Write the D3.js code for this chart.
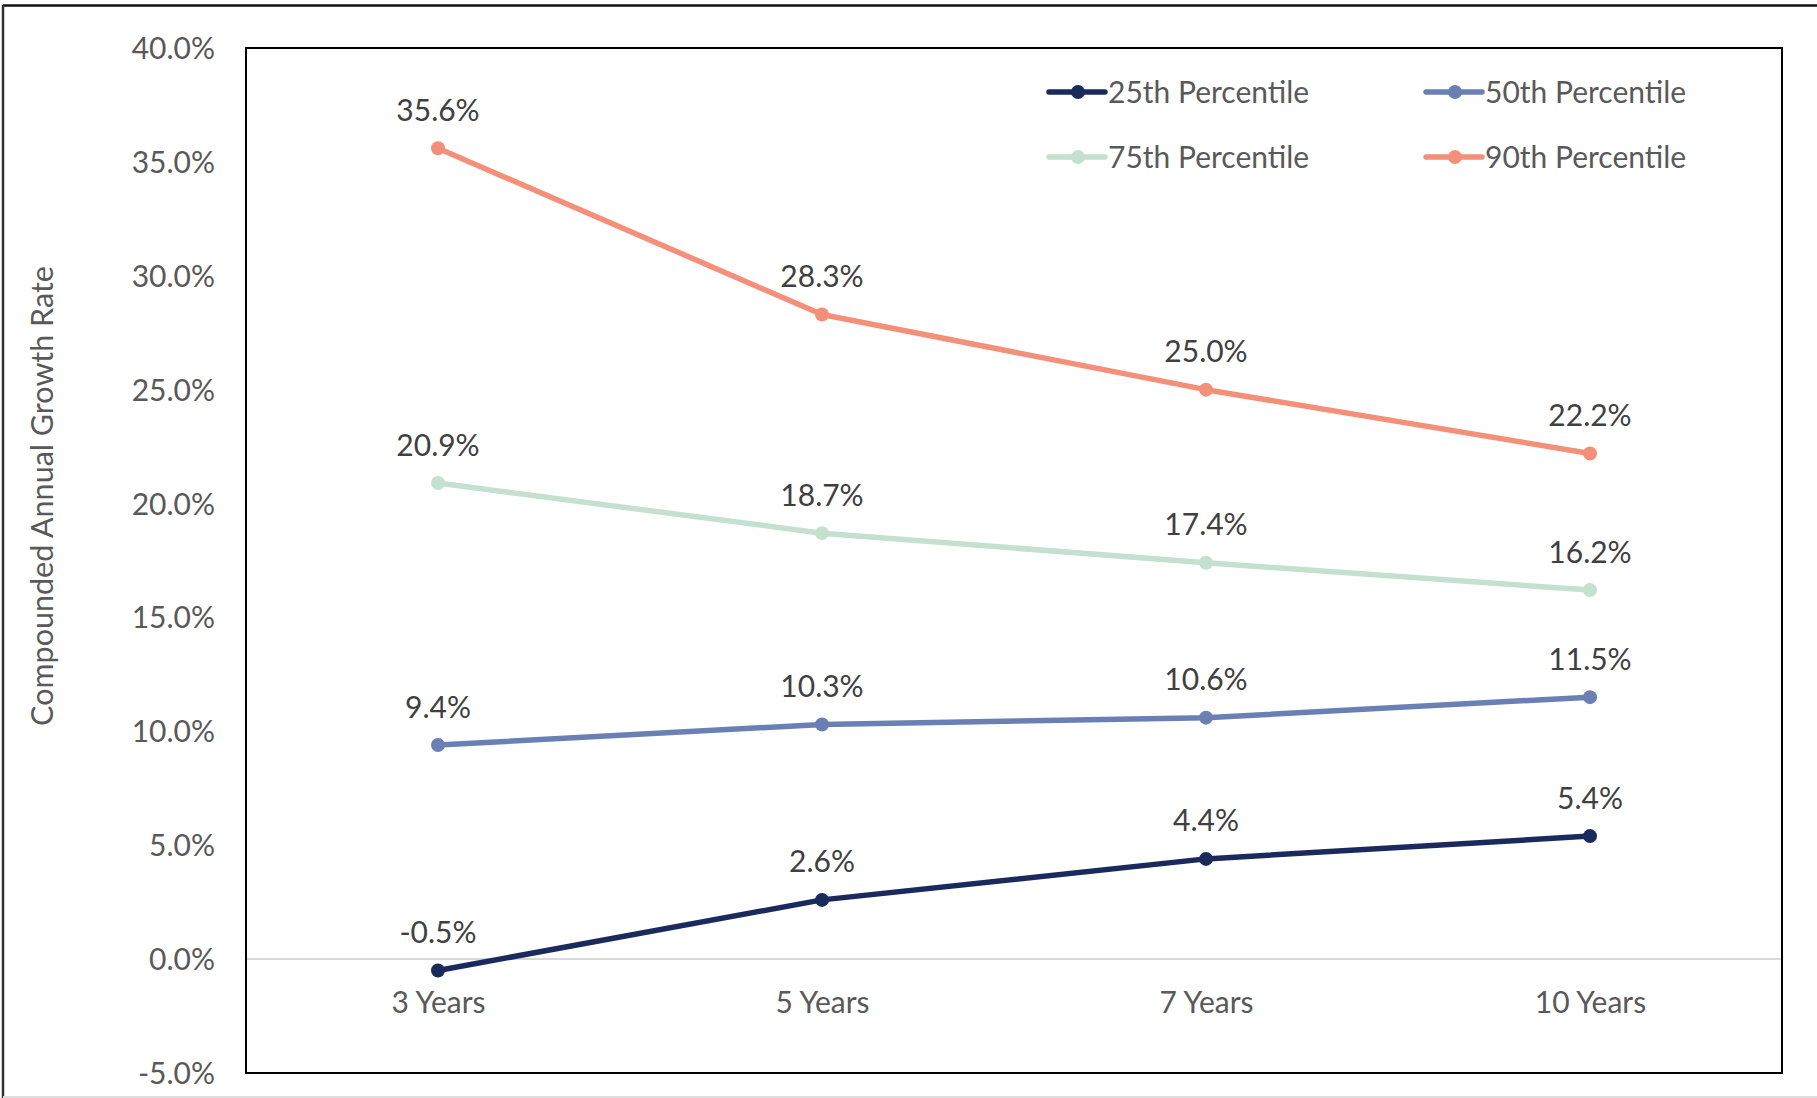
<!DOCTYPE html>
<html>
<head>
<meta charset="utf-8">
<script src="https://cdn.jsdelivr.net/npm/d3@7"></script>
<style>
  html, body { margin: 0; padding: 0; background: #fff; }
  svg { display: block; font-family: "Lato", "Open Sans", sans-serif; }
</style>
</head>
<body>
<svg id="chart" width="1817" height="1098"></svg>
<script>
// categories and series
const categories = ["3 Years", "5 Years", "7 Years", "10 Years"];
const seriesNames = ["25th Percentile", "50th Percentile", "75th Percentile", "90th Percentile"];
const p25 = [-0.5, 2.6, 4.4, 5.4];
const p50 = [9.4, 10.3, 10.6, 11.5];
const p75 = [20.9, 18.7, 17.4, 16.2];
const p90 = [35.6, 28.3, 25.0, 22.2];
const yTicks = [-5, 0, 5, 10, 15, 20, 25, 30, 35, 40];

const colors = ["#1b2a5c", "#6a7fb4", "#c4e0cf", "#f4907a"];
const seriesValues = [p25, p50, p75, p90];

const svg = d3.select("#chart");
const W = 1817, H = 1098;
const plot = { left: 246, top: 48, right: 1782, bottom: 1073 };
const fontSize = 30;

// outer frame
svg.append("line").attr("x1", 3).attr("x2", W).attr("y1", 5.5).attr("y2", 5.5)
    .attr("stroke", "#111").attr("stroke-width", 2.5);
svg.append("line").attr("x1", 3).attr("x2", 3).attr("y1", 5).attr("y2", H)
    .attr("stroke", "#333").attr("stroke-width", 2.5);
svg.append("line").attr("x1", 3).attr("x2", W).attr("y1", 1097).attr("y2", 1097)
    .attr("stroke", "#ddd").attr("stroke-width", 2);

const x = d3.scalePoint()
    .domain(categories)
    .range([plot.left, plot.right])
    .padding(0.5);

const y = d3.scaleLinear()
    .domain([-5, 40])
    .range([plot.bottom, plot.top]);

// zero line
svg.append("line")
    .attr("x1", plot.left).attr("x2", plot.right)
    .attr("y1", y(0)).attr("y2", y(0))
    .attr("stroke", "#d9d9d9").attr("stroke-width", 2);

// plot border
svg.append("rect")
    .attr("x", plot.left).attr("y", plot.top)
    .attr("width", plot.right - plot.left).attr("height", plot.bottom - plot.top)
    .attr("fill", "none").attr("stroke", "#000").attr("stroke-width", 2);

// y axis
const yAxis = svg.append("g")
    .attr("transform", `translate(${plot.left - 31},0)`)
    .call(d3.axisLeft(y).tickValues(yTicks).tickSize(0).tickPadding(0)
        .tickFormat(d => d.toFixed(1) + "%"));
yAxis.select(".domain").remove();
yAxis.selectAll("text")
    .attr("font-size", fontSize)
    .attr("font-family", "Lato, sans-serif")
    .attr("fill", "#595959")
    .attr("dy", "0.35em");

// x axis labels
const xAxis = svg.append("g")
    .attr("transform", `translate(0,${y(0)})`)
    .call(d3.axisBottom(x).tickSize(0).tickPadding(0));
xAxis.select(".domain").remove();
xAxis.selectAll("text")
    .attr("font-size", fontSize)
    .attr("font-family", "Lato, sans-serif")
    .attr("fill", "#595959")
    .attr("dy", 0)
    .attr("y", 54);

// y axis title
svg.append("text")
    .attr("transform", `translate(53,496) rotate(-90)`)
    .attr("text-anchor", "middle")
    .attr("font-size", 30.5)
    .attr("fill", "#595959")
    .text("Compounded Annual Growth Rate");

const line = d3.line()
    .x((d, i) => x(categories[i]))
    .y(d => y(d));

// draw series from back to front: 90th, 75th, 50th, 25th
const order = [3, 2, 1, 0];
order.forEach(s => {
    const g = svg.append("g");
    g.append("path")
        .datum(seriesValues[s])
        .attr("d", line)
        .attr("fill", "none")
        .attr("stroke", colors[s])
        .attr("stroke-width", 5.5)
        .attr("stroke-linejoin", "round");
    g.selectAll("circle")
        .data(seriesValues[s])
        .enter()
        .append("circle")
        .attr("cx", (d, i) => x(categories[i]))
        .attr("cy", d => y(d))
        .attr("r", 7)
        .attr("fill", colors[s]);
    g.selectAll("text")
        .data(seriesValues[s])
        .enter()
        .append("text")
        .attr("x", (d, i) => x(categories[i]))
        .attr("y", d => y(d) - 38)
        .attr("dy", "0.35em")
        .attr("text-anchor", "middle")
        .attr("font-size", fontSize)
        .attr("fill", "#404040")
        .text(d => d.toFixed(1) + "%");
});

// legend
const legendPos = [
    { x: 1049, y: 92 }, { x: 1426, y: 92 },
    { x: 1049, y: 157 }, { x: 1426, y: 157 }
];
seriesNames.forEach((name, i) => {
    const p = legendPos[i];
    const g = svg.append("g").attr("transform", `translate(${p.x},${p.y})`);
    g.append("line").attr("x1", 0).attr("x2", 56).attr("y1", 0).attr("y2", 0)
        .attr("stroke", colors[i]).attr("stroke-width", 5.5).attr("stroke-linecap", "round");
    g.append("circle").attr("cx", 29).attr("cy", 0).attr("r", 7).attr("fill", colors[i]);
    g.append("text").attr("x", 59).attr("y", 0).attr("dy", "0.35em")
        .attr("font-size", fontSize).attr("fill", "#595959").text(name);
});
</script>
</body>
</html>
